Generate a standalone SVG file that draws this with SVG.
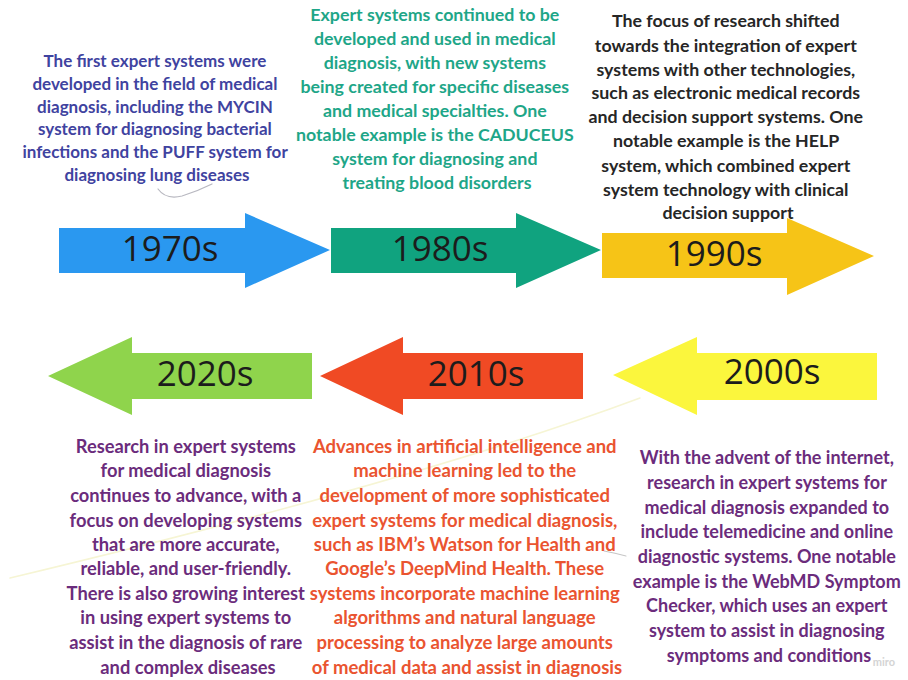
<svg xmlns="http://www.w3.org/2000/svg" width="908" height="680" viewBox="0 0 908 680">
  <style>
    .yr { font-family: "Open Sans", "Liberation Sans", sans-serif; font-size: 35px; font-weight: 400; fill: #1c1c1c; text-anchor: middle; }
    .txt { font-family: "Lato", "Liberation Sans", sans-serif; font-size: 17.8px; font-weight: 700; text-anchor: middle; }
    .c70 { fill: #3f43a0; font-size: 17px; }
    .c80 { fill: #1ea688; }
    .c90 { fill: #262626; }
    .c00 { fill: #6b2c7c; font-size: 18px; }
    .c10 { fill: #ea5430; font-size: 18.5px; }
    .c20 { fill: #6b2c7c; font-size: 18.3px; }
    .faint { fill: none; stroke-linecap: round; }
  </style>
  <rect width="908" height="680" fill="#ffffff"/>

  <!-- faint hand-drawn strokes -->
  <g id="connectors">
    <path class="faint" d="M158,189 Q166,200 182,196 Q198,191 212,184" stroke="#b8b8c0" stroke-width="1.2"/>
    <path class="faint" d="M640,398 Q420,480 10,578" stroke="#f6f5d4" stroke-width="1.5"/>
    <path class="faint" d="M604,551 Q615,553 626,556" stroke="#c4c4c4" stroke-width="1"/>
  </g>

  <!-- top row, pointing right -->
  <g id="arrow-1970s">
    <polygon points="59,228 245,228 245,213 330,250 245,288 245,273 59,273" fill="#2a98f0"/>
    <text class="yr" x="170" y="261">1970s</text>
  </g>
  <g id="arrow-1980s">
    <polygon points="331,228 516,228 516,213 601,250 516,288 516,273 331,273" fill="#10a37f"/>
    <text class="yr" x="440" y="261">1980s</text>
  </g>
  <g id="arrow-1990s">
    <polygon points="602,233 787,233 787,218 874,256 787,295 787,278 602,278" fill="#f6c417"/>
    <text class="yr" x="714" y="266">1990s</text>
  </g>

  <!-- bottom row, pointing left -->
  <g id="arrow-2000s">
    <polygon points="877,353 697,353 697,337 613,375 697,415 697,400 877,400" fill="#fbf63d"/>
    <text class="yr" x="772" y="384">2000s</text>
  </g>
  <g id="arrow-2010s">
    <polygon points="583,353 403,353 403,337 320,376 403,415 403,399 583,399" fill="#f04a24"/>
    <text class="yr" x="476" y="386">2010s</text>
  </g>
  <g id="arrow-2020s">
    <polygon points="312,353 132,353 132,337 48,376 132,415 132,399 312,399" fill="#8fd44c"/>
    <text class="yr" x="205" y="386">2020s</text>
  </g>

  <g id="note-1970s">
    <text class="txt c70">
      <tspan x="157" y="67">The first expert systems were</tspan>
      <tspan x="157" y="90">developed in the field of medical</tspan>
      <tspan x="157" y="113">diagnosis, including the MYCIN</tspan>
      <tspan x="157" y="135">system for diagnosing bacterial</tspan>
      <tspan x="157" y="158">infections and the PUFF system for</tspan>
      <tspan x="157" y="181">diagnosing lung diseases</tspan>
    </text>
  </g>

  <g id="note-1980s">
    <text class="txt c80">
      <tspan x="437" y="21">Expert systems continued to be</tspan>
      <tspan x="437" y="45">developed and used in medical</tspan>
      <tspan x="437" y="69">diagnosis, with new systems</tspan>
      <tspan x="437" y="93">being created for specific diseases</tspan>
      <tspan x="437" y="117">and medical specialties. One</tspan>
      <tspan x="437" y="141">notable example is the CADUCEUS</tspan>
      <tspan x="437" y="165">system for diagnosing and</tspan>
      <tspan x="437" y="189">treating blood disorders</tspan>
    </text>
  </g>

  <g id="note-1990s">
    <text class="txt c90">
      <tspan x="728" y="27">The focus of research shifted</tspan>
      <tspan x="728" y="52">towards the integration of expert</tspan>
      <tspan x="728" y="76">systems with other technologies,</tspan>
      <tspan x="728" y="99">such as electronic medical records</tspan>
      <tspan x="728" y="123">and decision support systems. One</tspan>
      <tspan x="728" y="147">notable example is the HELP</tspan>
      <tspan x="728" y="172">system, which combined expert</tspan>
      <tspan x="728" y="196">system technology with clinical</tspan>
      <tspan x="728" y="219">decision support</tspan>
    </text>
  </g>

  <g id="note-2000s">
    <text class="txt c00">
      <tspan x="769" y="464">With the advent of the internet,</tspan>
      <tspan x="769" y="489">research in expert systems for</tspan>
      <tspan x="769" y="514">medical diagnosis expanded to</tspan>
      <tspan x="769" y="538">include telemedicine and online</tspan>
      <tspan x="769" y="563">diagnostic systems. One notable</tspan>
      <tspan x="769" y="588">example is the WebMD Symptom</tspan>
      <tspan x="769" y="612">Checker, which uses an expert</tspan>
      <tspan x="769" y="637">system to assist in diagnosing</tspan>
      <tspan x="769" y="662">symptoms and conditions</tspan>
    </text>
  </g>

  <g id="note-2010s">
    <text class="txt c10">
      <tspan x="467" y="453">Advances in artificial intelligence and</tspan>
      <tspan x="467" y="477">machine learning led to the</tspan>
      <tspan x="467" y="502">development of more sophisticated</tspan>
      <tspan x="467" y="527">expert systems for medical diagnosis,</tspan>
      <tspan x="467" y="551">such as IBM’s Watson for Health and</tspan>
      <tspan x="467" y="575">Google’s DeepMind Health. These</tspan>
      <tspan x="467" y="600">systems incorporate machine learning</tspan>
      <tspan x="467" y="624">algorithms and natural language</tspan>
      <tspan x="467" y="649">processing to analyze large amounts</tspan>
      <tspan x="467" y="674">of medical data and assist in diagnosis</tspan>
    </text>
  </g>

  <g id="note-2020s">
    <text class="txt c20">
      <tspan x="188" y="453">Research in expert systems</tspan>
      <tspan x="188" y="477">for medical diagnosis</tspan>
      <tspan x="188" y="502">continues to advance, with a</tspan>
      <tspan x="188" y="527">focus on developing systems</tspan>
      <tspan x="188" y="551">that are more accurate,</tspan>
      <tspan x="188" y="575">reliable, and user-friendly.</tspan>
      <tspan x="188" y="600">There is also growing interest</tspan>
      <tspan x="188" y="624">in using expert systems to</tspan>
      <tspan x="188" y="649">assist in the diagnosis of rare</tspan>
      <tspan x="188" y="674">and complex diseases</tspan>
    </text>
  </g>

  <text x="884" y="666" font-family="Lato, 'Liberation Sans', sans-serif" font-size="11" font-weight="700" fill="#d4d4d4" text-anchor="middle">miro</text>
</svg>
